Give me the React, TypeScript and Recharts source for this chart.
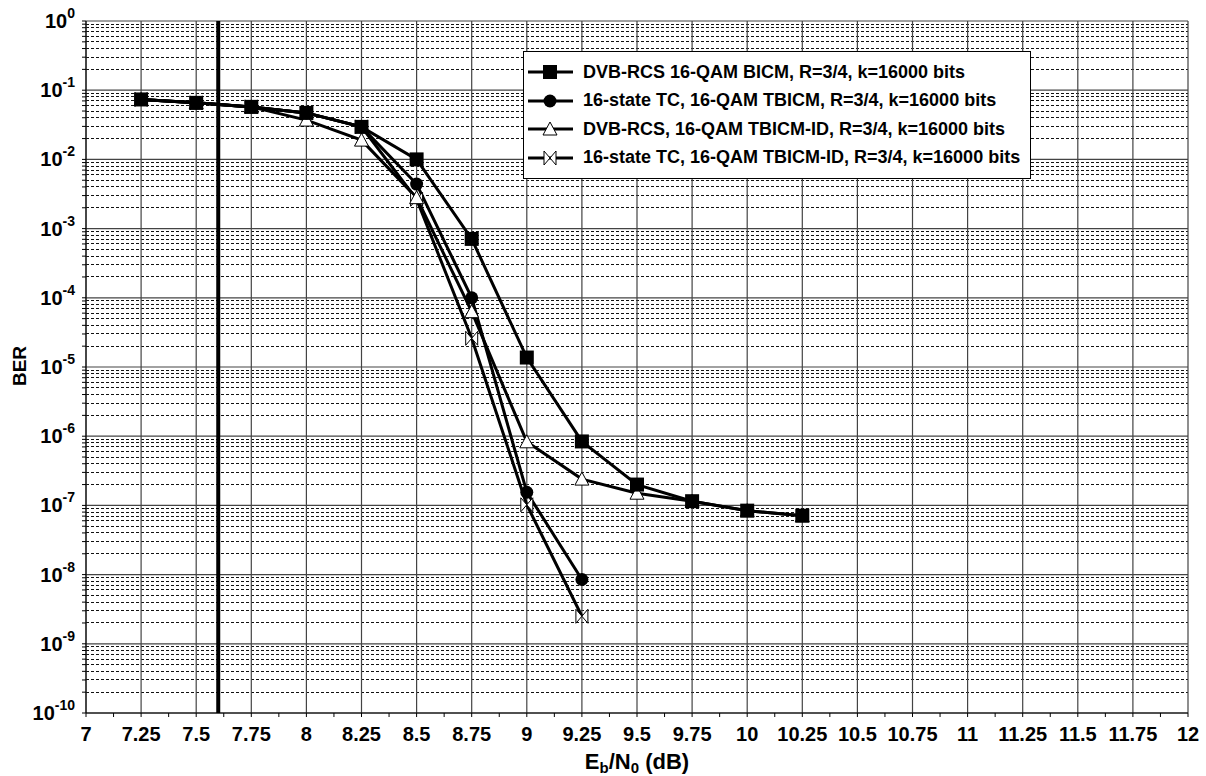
import { LineChart, Line, XAxis, YAxis, CartesianGrid, ReferenceLine, Legend } from 'recharts';

const FONT = "Arial, 'Liberation Sans', sans-serif";

// Eb/N0 points (dB)
const EBN0 = [7.25, 7.5, 7.75, 8, 8.25, 8.5, 8.75, 9, 9.25, 9.5, 9.75, 10, 10.25];

// BER
const BICM_RCS = [0.0735, 0.0656, 0.0574, 0.047, 0.0295, 0.01, 7.1e-4, 1.37e-5, 8.4e-7, 2.0e-7, 1.15e-7, 8.4e-8, 7.1e-8];
const TBICM_TC = [0.0735, 0.0656, 0.0574, 0.047, 0.0295, 0.0044, 1.0e-4, 1.55e-7, 8.5e-9];
const TBICMID_RCS = [0.0735, 0.0656, 0.0574, 0.037, 0.019, 0.0028, 6.3e-5, 8.3e-7, 2.4e-7, 1.5e-7, 1.15e-7, 8.4e-8, 7.1e-8];
const TBICMID_TC = [0.0735, 0.0656, 0.0574, 0.047, 0.0295, 0.00265, 2.6e-5, 1.02e-7, 2.5e-9];

const X_MAJOR = [7, 7.25, 7.5, 7.75, 8, 8.25, 8.5, 8.75, 9, 9.25, 9.5, 9.75, 10, 10.25, 10.5, 10.75, 11, 11.25, 11.5, 11.75, 12];
const X_MINOR = [7.125, 7.375, 7.625, 7.875, 8.125, 8.375, 8.625, 8.875, 9.125, 9.375, 9.625, 9.875, 10.125, 10.375, 10.625, 10.875, 11.125, 11.375, 11.625, 11.875];
const DECADES = [1e-10, 1e-9, 1e-8, 1e-7, 1e-6, 1e-5, 1e-4, 1e-3, 1e-2, 1e-1, 1];
const MANTISSAS = [2, 3, 4, 5, 6, 7, 8, 9];

const Y_MINOR = DECADES.slice(0, -1).flatMap((d) => MANTISSAS.map((m) => Number((m * d).toPrecision(3))));

const LEGEND = [
  { key: 'bicm', label: 'DVB-RCS 16-QAM BICM, R=3/4, k=16000 bits', shape: 'square' },
  { key: 'tbicm', label: '16-state TC, 16-QAM TBICM, R=3/4, k=16000 bits', shape: 'circle' },
  { key: 'rcsId', label: 'DVB-RCS, 16-QAM TBICM-ID, R=3/4, k=16000 bits', shape: 'triangle' },
  { key: 'tcId', label: '16-state TC, 16-QAM TBICM-ID, R=3/4, k=16000 bits', shape: 'bowtie' },
];

const data = EBN0.map((x, i) => ({
  x,
  bicm: BICM_RCS[i],
  tbicm: TBICM_TC[i],
  rcsId: TBICMID_RCS[i],
  tcId: TBICMID_TC[i],
}));

function Marker({ shape, cx, cy }: { shape: string; cx: number; cy: number }) {
  if (shape === 'square') return <rect x={cx - 7} y={cy - 7} width={14} height={14} fill="#000" />;
  if (shape === 'circle') return <circle cx={cx} cy={cy} r={6.5} fill="#000" />;
  if (shape === 'triangle')
    return <path d={`M${cx},${cy - 7} L${cx + 7},${cy + 6} L${cx - 7},${cy + 6} Z`} fill="#fff" stroke="#000" strokeWidth={1} />;
  return (
    <path
      d={`M${cx - 6},${cy - 7} L${cx + 6},${cy + 7} L${cx + 6},${cy - 7} L${cx - 6},${cy + 7} Z`}
      fill="#fff"
      stroke="#000"
      strokeWidth={1}
    />
  );
}

const dotFor = (shape: string) => (props: any) => {
  if (props.cx == null || props.cy == null || props.value == null) return <g key={props.index} />;
  return (
    <g key={props.index}>
      <Marker shape={shape} cx={props.cx} cy={props.cy} />
    </g>
  );
};

const XTick = ({ x, y, payload }: any) => {
  if (!X_MAJOR.includes(payload.value)) return <g />;
  return (
    <text x={x} y={y + 22} textAnchor="middle" fontFamily={FONT} fontWeight="bold" fontSize={20} fill="#000">
      {String(payload.value)}
    </text>
  );
};

const YTick = ({ x, y, payload }: any) => {
  const exp = Math.round(Math.log10(payload.value));
  if (Math.abs(payload.value - Math.pow(10, exp)) > 1e-12 * Math.pow(10, exp)) return <g />;
  return (
    <text x={x - 5} y={y + 7} textAnchor="end" fontFamily={FONT} fontWeight="bold" fontSize={20} fill="#000">
      10
      <tspan fontSize={14} dy={-10}>
        {String(exp)}
      </tspan>
    </text>
  );
};

const LegendBox = () => (
  <div style={{ border: '1px solid #000', background: '#fff', padding: '6px 0 6px 3px', width: 508, boxSizing: 'border-box' }}>
    {LEGEND.map((item) => (
      <div key={item.key} style={{ display: 'flex', alignItems: 'center', height: 28.5 }}>
        <svg width={52} height={20}>
          <line x1={1} y1={10} x2={46} y2={10} stroke="#000" strokeWidth={3} />
          <Marker shape={item.shape} cx={23} cy={10} />
        </svg>
        <span style={{ fontFamily: FONT, fontWeight: 'bold', fontSize: 18, marginLeft: 4, whiteSpace: 'nowrap' }}>{item.label}</span>
      </div>
    ))}
  </div>
);

export default function App() {
  return (
    <div style={{ position: 'absolute', left: 0, top: 0, background: '#fff' }}>
      <LineChart width={1206} height={776} data={data} margin={{ top: 21, right: 18, bottom: 0, left: 0 }}>
        <CartesianGrid horizontalValues={Y_MINOR} vertical={false} stroke="#111" strokeDasharray="3 2" shapeRendering="crispEdges" />
        <CartesianGrid horizontalValues={DECADES} verticalValues={X_MAJOR} stroke="#444" strokeWidth={1.2} />
        <XAxis
          dataKey="x"
          type="number"
          domain={[7, 12]}
          ticks={[...X_MAJOR, ...X_MINOR].sort((a, b) => a - b)}
          interval={0}
          height={63}
          tick={<XTick />}
          tickSize={4}
          stroke="#000"
        />
        <YAxis
          scale="log"
          type="number"
          domain={[1e-10, 1]}
          allowDataOverflow
          ticks={[...DECADES, ...Y_MINOR].sort((a, b) => a - b)}
          interval={0}
          width={86}
          tick={<YTick />}
          tickSize={4}
          stroke="#000"
        />
        <ReferenceLine x={7.6} stroke="#000" strokeWidth={4} />
        <Line dataKey="tcId" stroke="#000" strokeWidth={3} dot={dotFor('bowtie')} isAnimationActive={false} />
        <Line dataKey="rcsId" stroke="#000" strokeWidth={3} dot={dotFor('triangle')} isAnimationActive={false} />
        <Line dataKey="tbicm" stroke="#000" strokeWidth={3} dot={dotFor('circle')} isAnimationActive={false} />
        <Line dataKey="bicm" stroke="#000" strokeWidth={3} dot={dotFor('square')} isAnimationActive={false} />
        <Legend
          layout="vertical"
          align="center"
          verticalAlign="middle"
          content={<LegendBox />}
          wrapperStyle={{ left: 523, top: 51, width: 508, height: 124 }}
        />
        <text x={19} y={366} transform="rotate(-90 19 366)" textAnchor="middle" dominantBaseline="central" fontFamily={FONT} fontWeight="bold" fontSize={19}>
          BER
        </text>
        <text x={637} y={769} textAnchor="middle" fontFamily={FONT} fontWeight="bold" fontSize={22}>
          E<tspan fontSize={15} dy={4}>b</tspan>
          <tspan dy={-4}>/N</tspan>
          <tspan fontSize={15} dy={4}>0</tspan>
          <tspan dy={-4}> (dB)</tspan>
        </text>
      </LineChart>
    </div>
  );
}
